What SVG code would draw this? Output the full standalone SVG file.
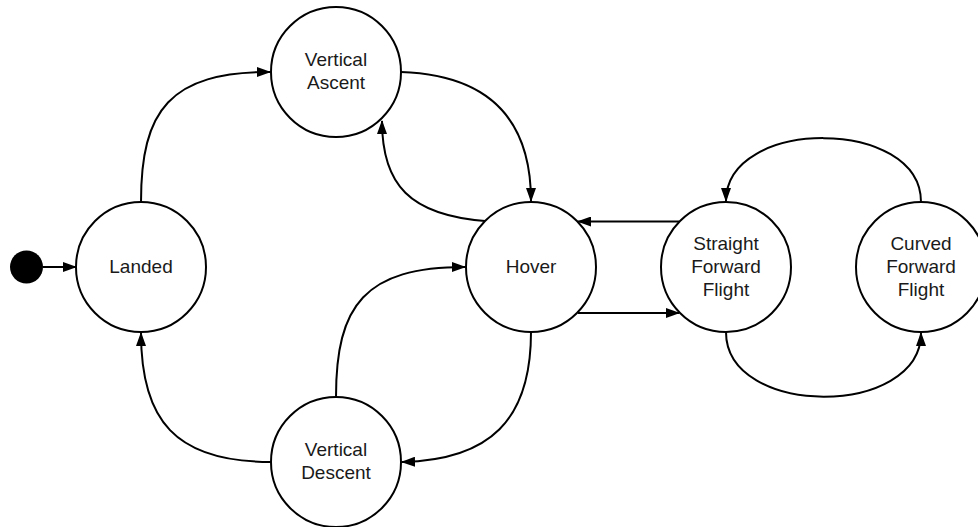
<svg xmlns="http://www.w3.org/2000/svg" width="978" height="527" viewBox="0 0 978 527">
  <defs>
    <style>
      .state { fill: #ffffff; stroke: #000000; stroke-width: 2; }
      .label { font-family: "Liberation Sans", Arial, sans-serif; font-size: 19px; fill: #1a1a1a; text-anchor: middle; }
      .edge { fill: none; stroke: #000000; stroke-width: 2; marker-end: url(#arrow); }
    </style>
    <marker id="arrow" viewBox="0 0 14 10" refX="13" refY="5" markerWidth="14" markerHeight="10" markerUnits="userSpaceOnUse" orient="auto">
      <path d="M0,0 L14,5 L0,10 Z" fill="#000000"/>
    </marker>
  </defs>
  <rect width="978" height="527" fill="#ffffff"/>

  <!-- transitions -->
  <g id="connectors">
    <path class="edge" d="M43,267 L76,267"/>
    <path class="edge" d="M141,202 C141,110 170,72 270,72"/>
    <path class="edge" d="M401,72 C490,75 531,120 531,201"/>
    <path class="edge" d="M485,221 C410,215 382,185 382,121"/>
    <path class="edge" d="M679,221.5 L578,221.5"/>
    <path class="edge" d="M578,313 L679,313"/>
    <path class="edge" d="M726,332 C726,418 921,418 921,333"/>
    <path class="edge" d="M921,202 C921,117 726,117 726,201"/>
    <path class="edge" d="M531,332 C531,420 490,460 402,462"/>
    <path class="edge" d="M336,397 C336,305 365,267 465,267"/>
    <path class="edge" d="M271,462 C175,462 141,420 141,333"/>
  </g>

  <g id="initial">
    <circle cx="26.5" cy="267" r="16.5" fill="#000000"/>
  </g>

  <g id="landed">
    <circle class="state" cx="141" cy="267" r="65"/>
    <text class="label" x="141" y="272.7">Landed</text>
  </g>

  <g id="vertical-ascent">
    <circle class="state" cx="336" cy="72" r="65"/>
    <text class="label" x="336" y="66.2">Vertical</text>
    <text class="label" x="336" y="89.2">Ascent</text>
  </g>

  <g id="hover">
    <circle class="state" cx="531" cy="267" r="65"/>
    <text class="label" x="531" y="272.7">Hover</text>
  </g>

  <g id="vertical-descent">
    <circle class="state" cx="336" cy="462" r="65"/>
    <text class="label" x="336" y="456.2">Vertical</text>
    <text class="label" x="336" y="479.2">Descent</text>
  </g>

  <g id="straight-forward-flight">
    <circle class="state" cx="726" cy="267" r="65"/>
    <text class="label" x="726" y="249.7">Straight</text>
    <text class="label" x="726" y="272.7">Forward</text>
    <text class="label" x="726" y="295.7">Flight</text>
  </g>

  <g id="curved-forward-flight">
    <circle class="state" cx="921" cy="267" r="65"/>
    <text class="label" x="921" y="249.7">Curved</text>
    <text class="label" x="921" y="272.7">Forward</text>
    <text class="label" x="921" y="295.7">Flight</text>
  </g>
</svg>
